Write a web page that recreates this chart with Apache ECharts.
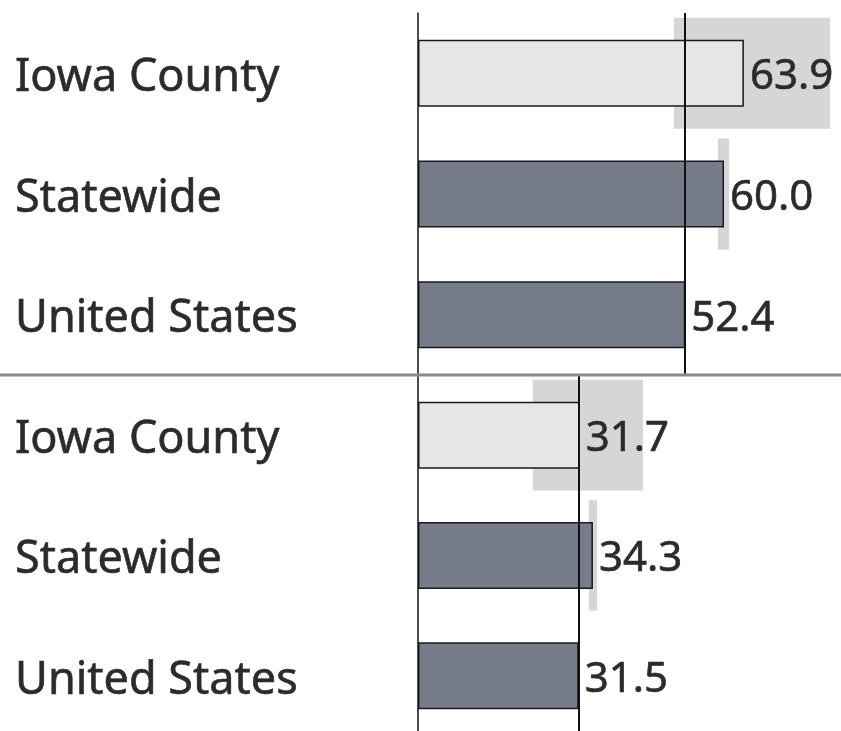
<!DOCTYPE html>
<html>
<head>
<meta charset="utf-8">
<script src="https://cdn.jsdelivr.net/npm/echarts@6/dist/echarts.min.js"></script>
<style>
  html, body { margin: 0; padding: 0; background: #fff; }
  #main { width: 841px; height: 731px; }
</style>
</head>
<body>
<div id="main"></div>
<script>
var categories = ['Iowa County', 'Statewide', 'United States'];

// top panel
var topValues = [63.9, 60.0, 52.4];
var topLow = [50.2, 58.8];
var topHigh = [80.8, 61.0];
var topRef = 52.4;

// bottom panel
var bottomValues = [31.7, 34.3, 31.5];
var bottomLow = [22.5, 33.5];
var bottomHigh = [44.1, 35.1];
var bottomRef = 31.5;

var FONT = '"Noto Sans", "Open Sans", sans-serif';
var TEXT = '#2b2b2b';
var chart = echarts.init(document.getElementById('main'));

function barData(vals) {
  return vals.map(function (v, i) {
    return {
      value: v,
      itemStyle: { color: i === 0 ? '#e6e6e6' : '#767d8a' }
    };
  });
}

function ciData(lo, hi) {
  return lo.map(function (l, i) { return [i, l, hi[i]]; });
}

function renderCI(params, api) {
  var cat = api.value(0);
  var p1 = api.coord([api.value(1), cat]);
  var p2 = api.coord([api.value(2), cat]);
  var h = api.size([0, 1])[1] * 0.92;
  return {
    type: 'rect',
    shape: { x: p1[0], y: p1[1] - h / 2, width: p2[0] - p1[0], height: h },
    style: { fill: '#d6d6d6' }
  };
}

function yAxisFor(idx) {
  return {
    type: 'category',
    gridIndex: idx,
    data: categories,
    inverse: true,
    axisLine: { show: true, lineStyle: { color: '#111', width: 1.5 } },
    axisTick: { show: false },
    axisLabel: {
      align: 'left',
      verticalAlign: 'top',
      lineHeight: 10,
      margin: 403,
      fontSize: 45,
      fontFamily: FONT,
      color: TEXT,
      textBorderColor: TEXT,
      textBorderWidth: 0.6
    }
  };
}

function xAxisFor(idx) {
  return {
    type: 'value',
    gridIndex: idx,
    min: 0,
    max: 80,
    show: false,
    splitLine: { show: false }
  };
}

function panelSeries(idx, vals, lo, hi, ref) {
  return [
    {
      type: 'custom',
      xAxisIndex: idx,
      yAxisIndex: idx,
      z: 1,
      silent: true,
      renderItem: renderCI,
      encode: { x: [1, 2], y: 0 },
      data: ciData(lo, hi)
    },
    {
      type: 'bar',
      xAxisIndex: idx,
      yAxisIndex: idx,
      z: 2,
      barWidth: 67,
      data: barData(vals),
      itemStyle: { borderColor: '#1a1a1a', borderWidth: 1.5 },
      label: {
        show: true,
        position: 'right',
        distance: 6,
        offset: [0, 4],
        fontSize: 42,
        fontFamily: FONT,
        color: TEXT,
        textBorderColor: TEXT,
        textBorderWidth: 0.6,
        formatter: function (p) { return p.value.toFixed(1); }
      }
    },
    {
      type: 'line',
      xAxisIndex: idx,
      yAxisIndex: idx,
      z: 5,
      data: [],
      markLine: {
        silent: true,
        symbol: ['none', 'none'],
        label: { show: false },
        lineStyle: { color: '#111', width: 2, type: 'solid' },
        data: [{ xAxis: ref }]
      }
    }
  ];
}

var option = {
  animation: false,
  backgroundColor: '#fff',
  grid: [
    { left: 418, width: 408, top: 13, height: 362, outerBoundsMode: 'none' },
    { left: 418, width: 408, top: 375, height: 361, outerBoundsMode: 'none' }
  ],
  xAxis: [xAxisFor(0), xAxisFor(1)],
  yAxis: [yAxisFor(0), yAxisFor(1)],
  graphic: [{
    type: 'line',
    z: 10,
    shape: { x1: 0, y1: 375, x2: 841, y2: 375 },
    style: { stroke: '#8a8a8a', lineWidth: 3 }
  }],
  series: panelSeries(0, topValues, topLow, topHigh, topRef)
    .concat(panelSeries(1, bottomValues, bottomLow, bottomHigh, bottomRef))
};

chart.setOption(option);
</script>
</body>
</html>
